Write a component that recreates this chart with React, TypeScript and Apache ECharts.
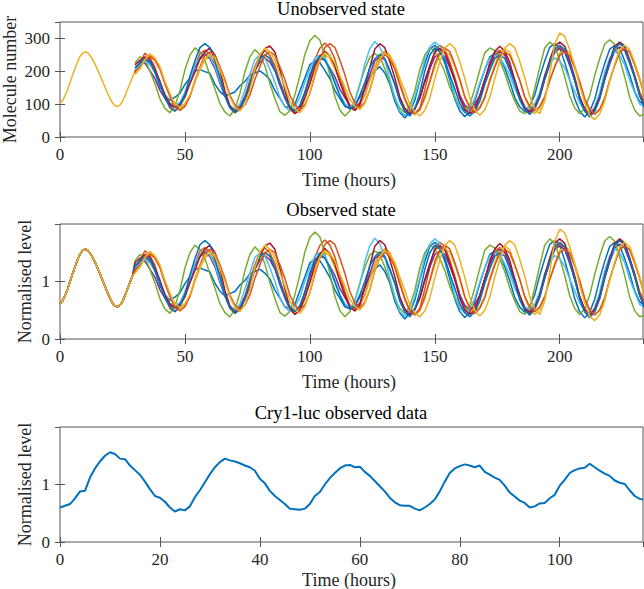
import React, { useEffect, useRef } from "react";
import * as echarts from "echarts";

// MATLAB default colour order
const COLORS = ["#0072BD", "#D95319", "#EDB120", "#7E2F8E", "#77AC30", "#4DBEEE", "#A2142F"];

// Observed history (molecule number), t = 0..30 h, step 1 h
const HISTORY = [102, 110, 125, 143, 165, 188, 208, 228, 245, 255, 259, 257, 248, 236, 222, 205, 188, 170, 152, 134, 118, 104, 95, 93, 97, 108, 125, 145, 163, 182, 200];

// Simulated trajectories (molecule number), t = 30..234 h, step 2 h
const TRAJ_START = 30;
const TRAJ_STEP = 2;
const TRAJ_1 = [
  200, 219, 238, 224, 196, 153, 127, 112, 121, 133,
  160, 180, 201, 205, 199, 194, 161, 138, 125, 131,
  137, 156, 169, 188, 195, 201, 190, 174, 141, 118,
  93, 89, 100, 140, 180, 220, 231, 226, 203, 178,
  142, 117, 93, 89, 95, 121, 148, 183, 202, 214,
  195, 161, 109, 75, 58, 75, 112, 171, 223, 267,
  279, 266, 224, 173, 115, 79, 62, 77, 108, 160,
  205, 244, 254, 245, 209, 168, 120, 92, 77, 94,
  128, 183, 231, 273, 284, 271, 227, 175, 116, 79,
  61, 78, 115, 173, 224, 267, 279, 269, 232, 189,
  139, 108, 95,
];
const TRAJ_2 = [
  195, 226, 255, 241, 213, 164, 124, 88, 79, 93,
  123, 173, 216, 254, 264, 252, 221, 170, 128, 90,
  81, 94, 123, 173, 214, 251, 263, 248, 218, 169,
  127, 90, 82, 93, 133, 180, 236, 270, 286, 271,
  237, 183, 137, 96, 86, 98, 127, 174, 214, 249,
  259, 248, 210, 167, 115, 84, 71, 88, 144, 206,
  262, 279, 268, 228, 182, 128, 94, 79, 93, 124,
  174, 217, 255, 264, 253, 215, 170, 118, 86, 71,
  87, 121, 175, 222, 262, 274, 262, 221, 173, 118,
  83, 67, 84, 120, 178, 229, 271, 284, 273, 234,
  189, 137, 104,
];
const TRAJ_3 = [
  215, 224, 239, 248, 236, 209, 164, 128, 95, 86,
  97, 123, 167, 203, 235, 244, 230, 183, 134, 87,
  73, 83, 118, 159, 207, 237, 251, 236, 207, 159,
  118, 82, 73, 85, 114, 163, 203, 240, 249, 240,
  206, 168, 122, 94, 81, 95, 125, 174, 215, 251,
  261, 250, 212, 167, 115, 82, 67, 83, 115, 167,
  212, 250, 261, 251, 214, 172, 122, 91, 77, 92,
  124, 176, 220, 258, 269, 258, 218, 173, 120, 86,
  71, 86, 119, 172, 217, 256, 267, 256, 216, 171,
  118, 84, 69, 84, 118, 172, 218, 258, 269, 258,
  219, 174, 122,
];
const TRAJ_4 = [
  200, 229, 224, 202, 178, 142, 118, 96, 91, 100,
  132, 168, 212, 237, 251, 238, 209, 163, 124, 90,
  81, 90, 122, 158, 202, 228, 241, 228, 202, 157,
  120, 88, 79, 92, 136, 182, 227, 239, 234, 210,
  184, 146, 120, 96, 91, 104, 145, 190, 232, 244,
  235, 201, 162, 116, 87, 74, 88, 118, 167, 208,
  244, 254, 245, 211, 172, 126, 97, 84, 98, 127,
  175, 214, 249, 259, 249, 213, 172, 123, 93, 79,
  94, 126, 177, 221, 258, 269, 258, 218, 172, 118,
  84, 69, 85, 119, 175, 222, 262, 274, 263, 224,
  180, 127, 94,
];
const TRAJ_5 = [
  225, 244, 235, 201, 162, 116, 87, 74, 95, 140,
  205, 249, 271, 259, 233, 188, 147, 102, 76, 64,
  86, 132, 198, 244, 266, 251, 217, 163, 117, 77,
  66, 80, 128, 186, 251, 293, 309, 295, 247, 190,
  124, 82, 64, 79, 111, 162, 206, 243, 254, 244,
  208, 167, 118, 88, 74, 95, 140, 205, 249, 271,
  261, 232, 198, 152, 118, 89, 81, 97, 148, 204,
  256, 271, 263, 232, 195, 147, 110, 79, 71, 90,
  148, 212, 271, 289, 276, 234, 183, 125, 88, 71,
  88, 126, 187, 239, 283, 296, 282, 237, 183, 121,
  82, 64, 69,
];
const TRAJ_6 = [
  205, 217, 231, 220, 198, 161, 131, 103, 96, 105,
  137, 173, 217, 243, 256, 243, 215, 168, 130, 95,
  86, 100, 144, 191, 236, 249, 240, 206, 167, 120,
  92, 79, 92, 120, 167, 206, 240, 249, 240, 208,
  172, 128, 102, 89, 110, 157, 223, 269, 291, 274,
  236, 176, 123, 79, 66, 79, 123, 176, 236, 274,
  289, 277, 234, 185, 127, 90, 74, 88, 117, 165,
  204, 240, 249, 243, 217, 188, 147, 118, 92, 86,
  101, 136, 189, 223, 241, 231, 210, 173, 139, 103,
  81, 71, 91, 135, 197, 240, 261, 248, 220, 173,
  135, 100, 91,
];
const TRAJ_7 = [
  220, 233, 244, 236, 204, 170, 127, 101, 89, 100,
  122, 162, 198, 238, 259, 271, 250, 205, 140, 95,
  76, 84, 115, 152, 201, 238, 269, 277, 259, 204,
  144, 89, 71, 82, 120, 163, 215, 246, 261, 247,
  217, 168, 127, 91, 81, 98, 153, 212, 268, 284,
  272, 229, 180, 122, 85, 69, 84, 118, 172, 218,
  258, 269, 258, 218, 172, 118, 84, 71, 83, 123,
  171, 226, 260, 276, 261, 227, 173, 127, 87, 76,
  90, 127, 185, 234, 277, 289, 276, 233, 182, 123,
  86, 69, 86, 123, 182, 233, 276, 289, 277, 234,
  185, 127, 90,
];
const TRAJ_8 = [
  210, 226, 239, 230, 198, 162, 118, 92, 79, 95,
  129, 185, 232, 272, 284, 272, 231, 182, 126, 90,
  74, 88, 117, 165, 204, 239, 249, 240, 206, 167,
  121, 92, 79, 97, 135, 190, 227, 246, 233, 207,
  163, 127, 95, 86, 95, 128, 166, 211, 238, 251,
  239, 202, 160, 109, 78, 64, 85, 134, 201, 249,
  271, 259, 233, 188, 147, 102, 76, 64, 78, 109,
  160, 202, 239, 249, 239, 203, 162, 113, 83, 69,
  85, 121, 177, 226, 267, 279, 266, 224, 173, 115,
  78, 61, 78, 116, 176, 227, 271, 284, 272, 230,
  182, 126, 90,
];
const TRAJ_9 = [
  200, 212, 233, 246, 233, 206, 161, 123, 90, 81,
  93, 123, 172, 213, 249, 259, 249, 214, 175, 127,
  98, 84, 98, 127, 175, 214, 249, 259, 249, 214,
  175, 127, 98, 84, 99, 133, 187, 233, 273, 284,
  273, 234, 190, 137, 104, 89, 106, 143, 197, 233,
  251, 237, 207, 158, 117, 81, 71, 83, 123, 169,
  224, 258, 271, 260, 221, 176, 122, 89, 74, 88,
  119, 170, 212, 249, 259, 249, 213, 172, 123, 93,
  79, 93, 123, 172, 213, 249, 259, 248, 211, 167,
  116, 84, 69, 84, 118, 172, 218, 258, 269, 258,
  221, 177, 126,
];
const TRAJ_10 = [
  190, 207, 236, 253, 240, 214, 169, 133, 100, 91,
  102, 128, 172, 208, 240, 249, 240, 206, 167, 121,
  92, 79, 99, 144, 206, 250, 271, 259, 235, 192,
  153, 109, 86, 74, 93, 135, 195, 236, 256, 246,
  225, 187, 153, 115, 94, 84, 102, 142, 198, 237,
  256, 244, 221, 179, 141, 99, 76, 64, 81, 118,
  177, 228, 271, 284, 271, 229, 178, 120, 83, 66,
  83, 120, 178, 229, 271, 284, 272, 230, 181, 123,
  87, 71, 110, 193, 283, 317, 306, 266, 217, 155,
  105, 66, 53, 70, 109, 169, 222, 266, 279, 267,
  227, 180, 125,
];
const TRAJECTORIES = [TRAJ_1, TRAJ_2, TRAJ_3, TRAJ_4, TRAJ_5, TRAJ_6, TRAJ_7, TRAJ_8, TRAJ_9, TRAJ_10];

// Normalisation constant (molecule number -> normalised level)
const NORM = 166;

// Cry1-luc observed data (normalised level), t = 0..116 h, step 1 h, then last sample
const CRY1 = [
  0.60, 0.63, 0.66, 0.76, 0.88, 0.89, 1.12, 1.28, 1.40, 1.50,
  1.56, 1.53, 1.45, 1.44, 1.33, 1.25, 1.17, 1.05, 0.92, 0.80,
  0.77, 0.70, 0.60, 0.53, 0.57, 0.55, 0.62, 0.78, 0.90, 1.04,
  1.18, 1.30, 1.39, 1.45, 1.42, 1.40, 1.37, 1.33, 1.30, 1.24,
  1.10, 1.02, 0.89, 0.80, 0.73, 0.66, 0.58, 0.57, 0.56, 0.58,
  0.66, 0.80, 0.87, 1.00, 1.11, 1.20, 1.28, 1.33, 1.34, 1.30,
  1.31, 1.22, 1.15, 1.06, 0.97, 0.88, 0.77, 0.69, 0.64, 0.63,
  0.63, 0.58, 0.55, 0.60, 0.66, 0.74, 0.88, 1.05, 1.20, 1.28,
  1.32, 1.35, 1.33, 1.30, 1.33, 1.22, 1.17, 1.12, 1.08, 0.98,
  0.86, 0.79, 0.72, 0.68, 0.60, 0.62, 0.67, 0.68, 0.76, 0.82,
  0.98, 1.08, 1.20, 1.25, 1.28, 1.29, 1.36, 1.30, 1.24, 1.19,
  1.15, 1.07, 1.03, 1.01, 0.90, 0.80, 0.75,
];
const CRY1_LAST = [116.67, 0.74];

const TITLES = ["Unobserved state", "Observed state", "Cry1-luc observed data"];
const Y_NAMES = ["Molecule number", "Normalised level", "Normalised level"];
const X_NAME = "Time (hours)";
const X_MAX = [233.33, 233.33, 116.67];
const X_INT = [50, 50, 20];
const Y_MAX = [350, 2, 2];
const Y_INT = [100, 1, 1];

const FONT = "'Liberation Serif', 'Times New Roman', serif";
const TEXT_COLOR = "#262626";
const GRID_TOPS = [22, 224, 427];
const GRID_H = 115;
const GRID_LEFT = 60;
const GRID_W = 583;

function trajTime(i: number) {
  return TRAJ_START + i * TRAJ_STEP;
}

export default function App() {
  const ref = useRef<HTMLDivElement>(null);
  useEffect(() => {
    if (!ref.current) return;
    const chart = echarts.init(ref.current, undefined, { renderer: "svg" });

    const grids = GRID_TOPS.map((top) => ({
      left: GRID_LEFT,
      top,
      width: GRID_W,
      height: GRID_H,
      show: true,
      borderColor: "#555555",
      borderWidth: 1,
      backgroundColor: "transparent",
    }));

    const xAxes: any[] = [];
    const yAxes: any[] = [];
    for (let g = 0; g < 3; g++) {
      const xi = X_INT[g];
      const yi = Y_INT[g];
      const base = {
        gridIndex: g,
        type: "value",
        axisLine: { show: false },
        splitLine: { show: false },
        axisTick: { show: true, inside: true, length: 5, lineStyle: { color: "#555555" } },
      };
      xAxes.push({
        ...base,
        position: "bottom",
        min: 0,
        max: X_MAX[g],
        interval: xi,
        axisLabel: {
          color: TEXT_COLOR,
          fontFamily: FONT,
          fontSize: 17,
          margin: 9,
          showMaxLabel: false,
          formatter: (v: number) => (Math.abs(v % xi) < 1e-6 ? String(v) : ""),
        },
      });
      xAxes.push({
        ...base,
        position: "top",
        min: 0,
        max: X_MAX[g],
        interval: xi,
        axisLabel: { show: false },
      });
      yAxes.push({
        ...base,
        position: "left",
        min: 0,
        max: Y_MAX[g],
        interval: yi,
        axisLabel: {
          color: TEXT_COLOR,
          fontFamily: FONT,
          fontSize: 17,
          margin: 10,
          showMaxLabel: false,
          formatter: (v: number) => (Math.abs(v % yi) < 1e-6 ? String(v) : ""),
        },
      });
      yAxes.push({
        ...base,
        position: "right",
        min: 0,
        max: Y_MAX[g],
        interval: yi,
        axisLabel: { show: false },
      });
    }

    const series: any[] = [];
    // Panel 1: history + trajectories in molecule numbers
    series.push({
      type: "line",
      xAxisIndex: 0,
      yAxisIndex: 0,
      data: HISTORY.map((v, i) => [i, v]),
      showSymbol: false,
      symbol: "none",
      lineStyle: { color: COLORS[2], width: 1.5 },
      color: COLORS[2],
    });
    TRAJECTORIES.forEach((tr, k) => {
      const c = COLORS[k % COLORS.length];
      series.push({
        type: "line",
        xAxisIndex: 0,
        yAxisIndex: 0,
        data: tr.map((v, i) => [trajTime(i), v]),
        showSymbol: false,
        symbol: "none",
        lineStyle: { color: c, width: 1.5 },
        color: c,
      });
    });
    // Panel 2: normalised (history + trajectory)
    TRAJECTORIES.forEach((tr, k) => {
      const c = COLORS[k % COLORS.length];
      const hist = HISTORY.slice(0, TRAJ_START).map((v, i) => [i, v / NORM]);
      const rest = tr.map((v, i) => [trajTime(i), v / NORM]);
      series.push({
        type: "line",
        xAxisIndex: 2,
        yAxisIndex: 2,
        data: hist.concat(rest),
        showSymbol: false,
        symbol: "none",
        lineStyle: { color: c, width: 1.5 },
        color: c,
      });
    });
    // Panel 3: Cry1-luc data
    series.push({
      type: "line",
      xAxisIndex: 4,
      yAxisIndex: 4,
      data: CRY1.map((v, i) => [i, v]).concat([CRY1_LAST]),
      showSymbol: false,
      symbol: "none",
      lineStyle: { color: COLORS[0], width: 2 },
      color: COLORS[0],
    });

    const titleX = 341;
    const xNameX = 349;
    const graphic: any[] = [];
    const titleY = [9, 210, 413];
    const xNameY = [180, 382, 580];
    const yNameX = [10, 25, 25];
    for (let g = 0; g < 3; g++) {
      graphic.push({
        type: "text",
        x: titleX,
        y: titleY[g],
        style: { text: TITLES[g], align: "center", verticalAlign: "middle", font: `18.5px ${FONT}`, fill: "#000" },
      });
      graphic.push({
        type: "text",
        x: xNameX,
        y: xNameY[g],
        style: { text: X_NAME, align: "center", verticalAlign: "middle", font: `18px ${FONT}`, fill: TEXT_COLOR },
      });
      graphic.push({
        type: "text",
        x: yNameX[g],
        y: GRID_TOPS[g] + GRID_H / 2,
        rotation: Math.PI / 2,
        style: { text: Y_NAMES[g], align: "center", verticalAlign: "middle", font: `18px ${FONT}`, fill: TEXT_COLOR },
      });
    }

    chart.setOption({
      animation: false,
      backgroundColor: "#ffffff",
      grid: grids,
      xAxis: xAxes,
      yAxis: yAxes,
      series,
      graphic,
    });
    return () => chart.dispose();
  }, []);
  return <div ref={ref} style={{ position: "fixed", left: 0, top: 0, width: 644, height: 589 }} />;
}
